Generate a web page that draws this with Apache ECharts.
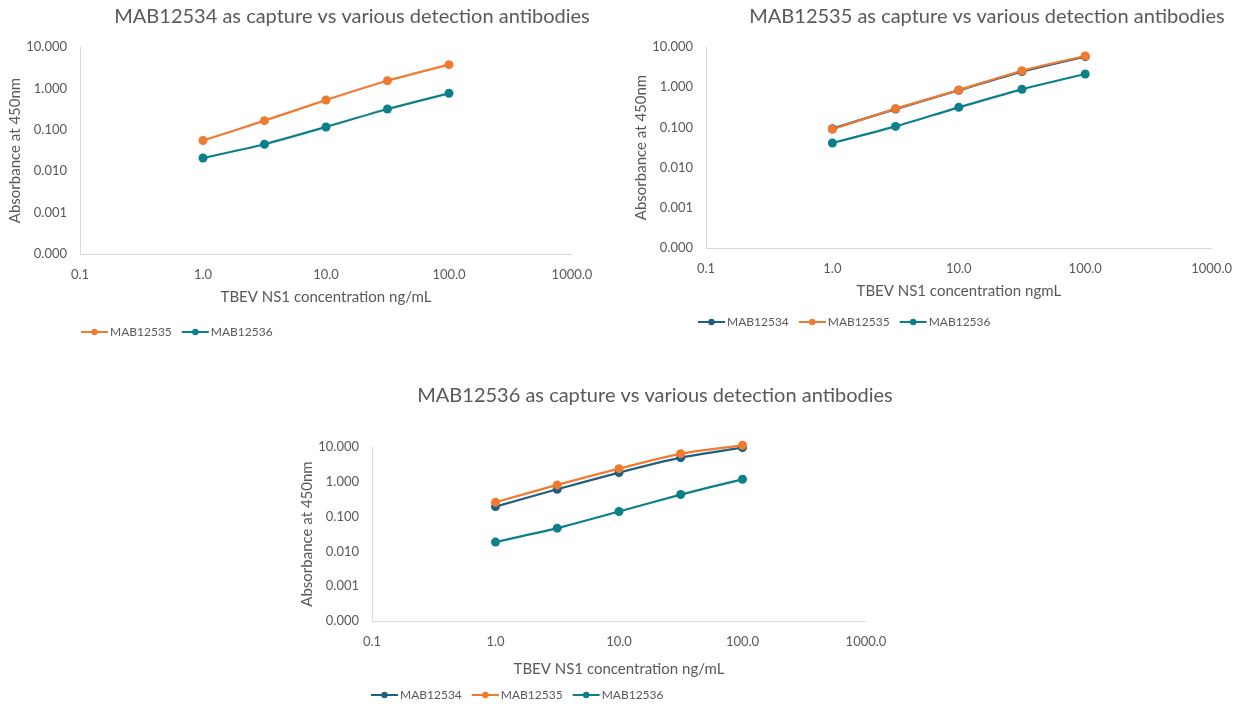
<!DOCTYPE html>
<html>
<head>
<meta charset="utf-8">
<script src="https://cdn.jsdelivr.net/npm/echarts@6/dist/echarts.min.js"></script>
<style>
html,body{margin:0;padding:0;background:#fff;}
#main{width:1235px;height:704px;}
</style>
</head>
<body>
<div id="main"></div>
<script>
// Concentrations (ng/mL)
const concentrations = [1, 3.16, 10, 31.6, 100];

// Chart 1: MAB12534 as capture
const c1_MAB12535 = [0.055, 0.166, 0.525, 1.53, 3.74];
const c1_MAB12536 = [0.0208, 0.0447, 0.117, 0.318, 0.762];

// Chart 2: MAB12535 as capture
const c2_MAB12534 = [0.093, 0.285, 0.84, 2.45, 5.75];
const c2_MAB12535 = [0.0897, 0.292, 0.851, 2.57, 5.97];
const c2_MAB12536 = [0.0409, 0.106, 0.316, 0.887, 2.13];

// Chart 3: MAB12536 as capture
const c3_MAB12534 = [0.194, 0.611, 1.84, 4.94, 9.57];
const c3_MAB12535 = [0.259, 0.813, 2.39, 6.44, 11.2];
const c3_MAB12536 = [0.0185, 0.0465, 0.140, 0.430, 1.18];

const titles = [
  'MAB12534 as capture vs various detection antibodies',
  'MAB12535 as capture vs various detection antibodies',
  'MAB12536 as capture vs various detection antibodies'
];
const xNames = ['TBEV NS1 concentration ng/mL', 'TBEV NS1 concentration ngmL', 'TBEV NS1 concentration ng/mL'];
const yName = 'Absorbance at 450nm';

const COLORS = {MAB12534: '#1F5F7F', MAB12535: '#F07A30', MAB12536: '#0B7F8A'};
const TEXT = '#595959';
const FONT = 'Lato';

function pairs(ys){ return concentrations.map((x,i)=>[x, ys[i]]); }

const grids = [
  {left: 80, top: 47, width: 492, height: 207},
  {left: 706, top: 47, width: 506, height: 201},
  {left: 372, top: 447, width: 494, height: 174}
];
const xNameGaps = [36, 36, 41];

const xAxes = grids.map((g,i)=>({
  type: 'log', logBase: 10, gridIndex: i, min: 0.1, max: 1000,
  name: xNames[i], nameLocation: 'middle', nameGap: xNameGaps[i],
  nameTextStyle: {color: TEXT, fontSize: 15, fontFamily: FONT},
  axisLine: {show: true, lineStyle: {color: '#D9D9D9', width: 1}},
  axisTick: {show: false},
  splitLine: {show: false},
  minorTick: {show: false},
  axisLabel: {color: TEXT, fontSize: 13, fontFamily: FONT, margin: 14,
    formatter: v => Number(v).toFixed(1)}
}));

const yAxes = grids.map((g,i)=>({
  type: 'log', logBase: 10, gridIndex: i, min: 0.0001, max: 10,
  name: yName, nameLocation: 'middle', nameGap: 56,
  nameTextStyle: {color: TEXT, fontSize: 15, fontFamily: FONT},
  axisLine: {show: true, lineStyle: {color: '#D9D9D9', width: 1}},
  axisTick: {show: false},
  splitLine: {show: false},
  axisLabel: {color: TEXT, fontSize: 13, fontFamily: FONT, margin: 13,
    formatter: v => Number(v).toFixed(3)}
}));

function ser(name, data, idx){
  return {
    name: name, type: 'line', xAxisIndex: idx, yAxisIndex: idx,
    data: pairs(data), smooth: 0.2, clip: false,
    symbol: 'circle', symbolSize: 9, showSymbol: true,
    lineStyle: {width: 2.25, color: COLORS[name]},
    itemStyle: {color: COLORS[name]},
    emphasis: {disabled: true}, animation: false
  };
}

const series = [
  ser('MAB12535', c1_MAB12535, 0),
  ser('MAB12536', c1_MAB12536, 0),
  ser('MAB12534', c2_MAB12534, 1),
  ser('MAB12535', c2_MAB12535, 1),
  ser('MAB12536', c2_MAB12536, 1),
  ser('MAB12534', c3_MAB12534, 2),
  ser('MAB12535', c3_MAB12535, 2),
  ser('MAB12536', c3_MAB12536, 2)
];

const titleStyle = {color: TEXT, fontSize: 20, fontWeight: 'normal', fontFamily: FONT};
const legendBase = {
  itemWidth: 27, itemHeight: 8, itemGap: 9,
  textStyle: {color: TEXT, fontSize: 12, fontFamily: FONT, padding: [0,0,0,-3]},
  selectedMode: false
};

const option = {
  animation: false,
  title: [
    {text: titles[0], left: 347, top: 2, textAlign: 'center', textStyle: titleStyle},
    {text: titles[1], left: 982, top: 2, textAlign: 'center', textStyle: titleStyle},
    {text: titles[2], left: 650, top: 381, textAlign: 'center', textStyle: titleStyle}
  ],
  grid: grids,
  xAxis: xAxes,
  yAxis: yAxes,
  legend: [
    Object.assign({}, legendBase, {left: 75, top: 321, data: ['MAB12535','MAB12536']}),
    Object.assign({}, legendBase, {left: 692, top: 311, data: ['MAB12534','MAB12535','MAB12536']}),
    Object.assign({}, legendBase, {left: 365, top: 684, data: ['MAB12534','MAB12535','MAB12536']})
  ],
  series: series
};

const chart = echarts.init(document.getElementById('main'), null, {renderer: 'canvas'});
chart.setOption(option);
</script>
</body>
</html>
